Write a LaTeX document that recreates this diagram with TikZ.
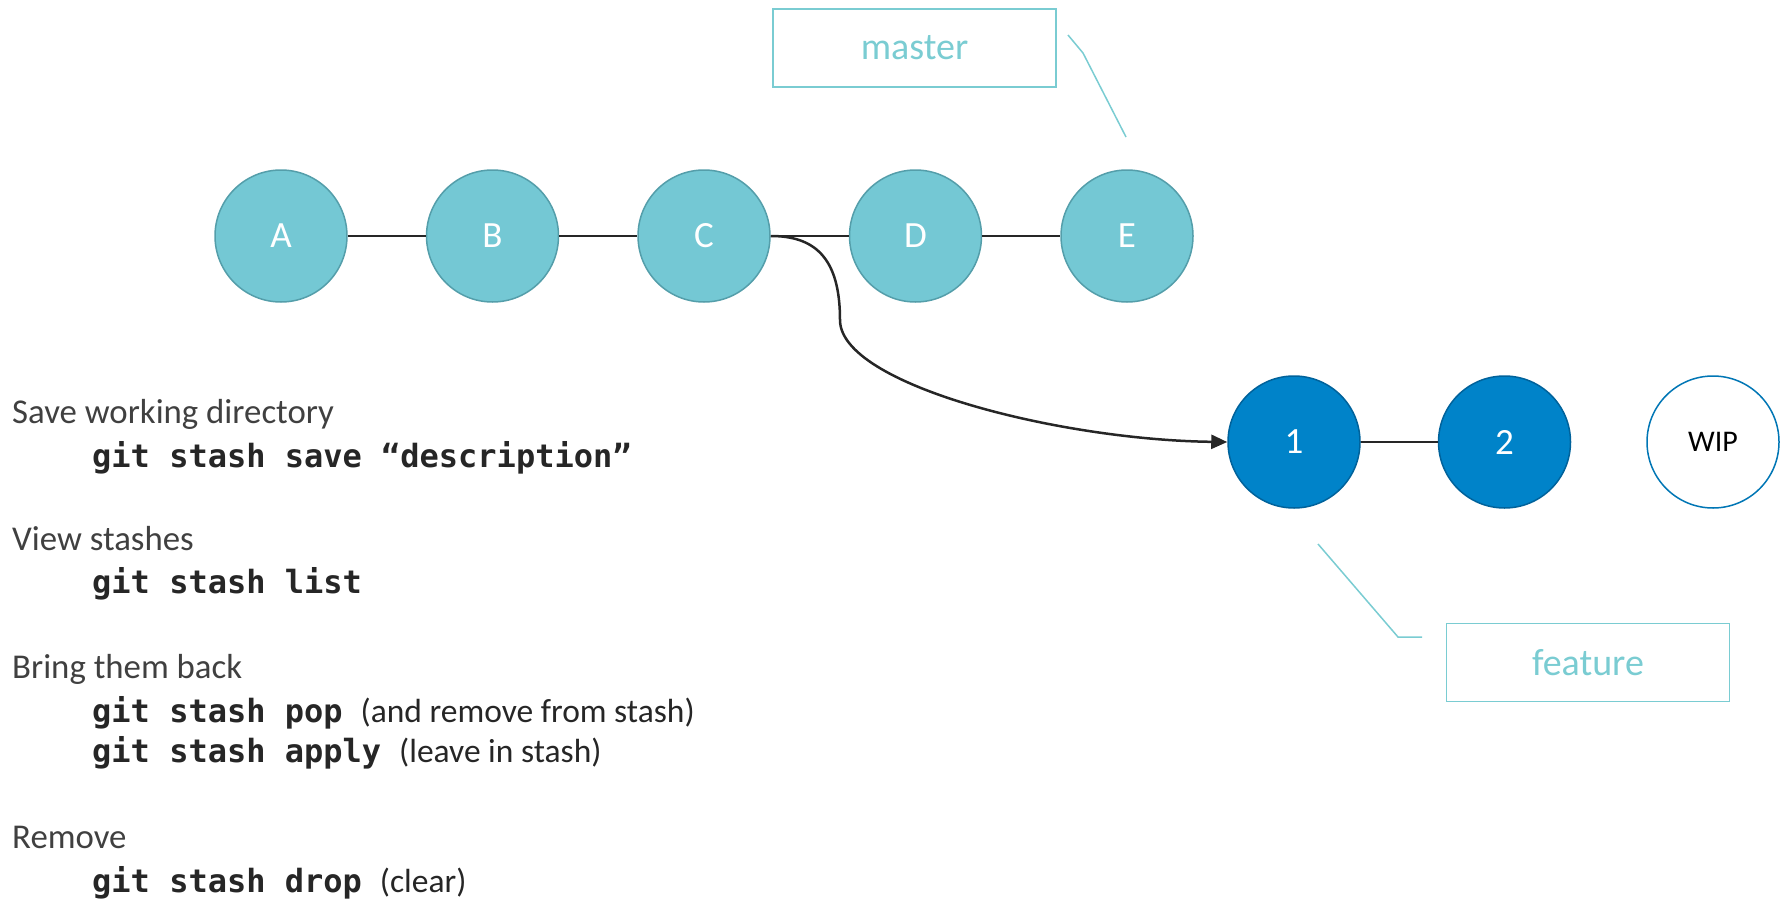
\documentclass[tikz,border=0pt]{standalone}
\usepackage{fontspec}
\setmainfont{Carlito}
\setmonofont{DejaVu Sans Mono}
\usetikzlibrary{positioning,arrows.meta}
\definecolor{tealfill}{RGB}{116,200,212}
\definecolor{tealline}{RGB}{84,158,170}
\definecolor{bluefill}{RGB}{0,131,201}
\definecolor{blueline}{RGB}{0,98,155}
\definecolor{boxteal}{RGB}{122,204,210}
\newcommand{\aside}{\rmfamily\mdseries\fontsize{33.5}{40}\selectfont}
\tikzset{
    commit/.style={circle,draw=tealline,line width=1.5pt,fill=tealfill,text=white,minimum size=132pt,inner sep=0,font=\fontsize{37}{44}\selectfont},
    branch/.style={commit,draw=blueline,fill=bluefill},
    wip/.style={commit,draw=bluefill!90!black,fill=white,text=black,font=\fontsize{30}{36}\selectfont},
    tag/.style={draw=boxteal,line width=1.5pt,text=boxteal,minimum width=283pt,minimum height=78pt,inner sep=0,font=\fontsize{38}{46}\selectfont},
    head/.style={anchor=base west,inner sep=0,text=black!75,font=\fontsize{34.8}{42}\selectfont},
    cmd/.style={anchor=base west,inner sep=0,text=black!85,font=\ttfamily\bfseries\fontsize{32}{38}\selectfont},
    link/.style={line width=1.5pt,draw=black!85},
    flow/.style={line width=2.5pt,draw=black!85,-{Triangle[length=16pt,width=14pt]}},
    leader/.style={line width=1.5pt,draw=boxteal}
}
\begin{document}
\begin{tikzpicture}[x=1pt,y=-1pt]
    \useasboundingbox (0,0) rectangle (1786,902);
    \node[commit] (A) at (281,236) {A};
    \node[commit,right=78pt of A] (B) {B};
    \node[commit,right=78pt of B] (C) {C};
    \node[commit,right=78pt of C] (D) {D};
    \node[commit,right=78pt of D] (E) {E};
    \node[branch] (1) at (1294,442) {1};
    \node[branch,right=77pt of 1] (2) {2};
    \node[wip,right=75pt of 2] (wip) {WIP};
    \node[tag] (master) at (914.5,48) {master};
    \node[tag] (feature) at (1588,662.5) {feature};

    \draw[link] (A) -- (B);
    \draw[link] (B) -- (C);
    \draw[link] (C) -- (D);
    \draw[link] (D) -- (E);
    \draw[link] (1) -- (2);
    \draw[flow] (C.east) .. controls (815,236) and (840,258) .. (840,320)
        .. controls (840,385) and (1060,440) .. (1.west);

    \coordinate (mtop) at (1068,35);
    \coordinate (mbend) at (1083,53);
    \coordinate (mend) at (1126,137);
    \draw[leader] (mtop) -- (mbend) -- (mend);
    \coordinate (ftop) at (1318,544);
    \coordinate (fbend) at (1398,637);
    \coordinate (fend) at (1422,637);
    \draw[leader] (ftop) -- (fbend) -- (fend);

    \node[head] (save) at (12,423) {Save working directory};
    \node[cmd] (savecmd) at (92,467) {git stash save “description”};
    \node[head] (view) at (12,550) {View stashes};
    \node[cmd] (list) at (92,593) {git stash list};
    \node[head] (back) at (12,678) {Bring them back};
    \node[cmd] (pop) at (92,722) {git stash pop\hspace{18pt}{\aside (and remove from stash)}};
    \node[cmd] (apply) at (92,762) {git stash apply\hspace{18pt}{\aside (leave in stash)}};
    \node[head] (remove) at (12,848) {Remove};
    \node[cmd] (drop) at (92,892) {git stash drop\hspace{18pt}{\aside (clear)}};
\end{tikzpicture}
\end{document}
